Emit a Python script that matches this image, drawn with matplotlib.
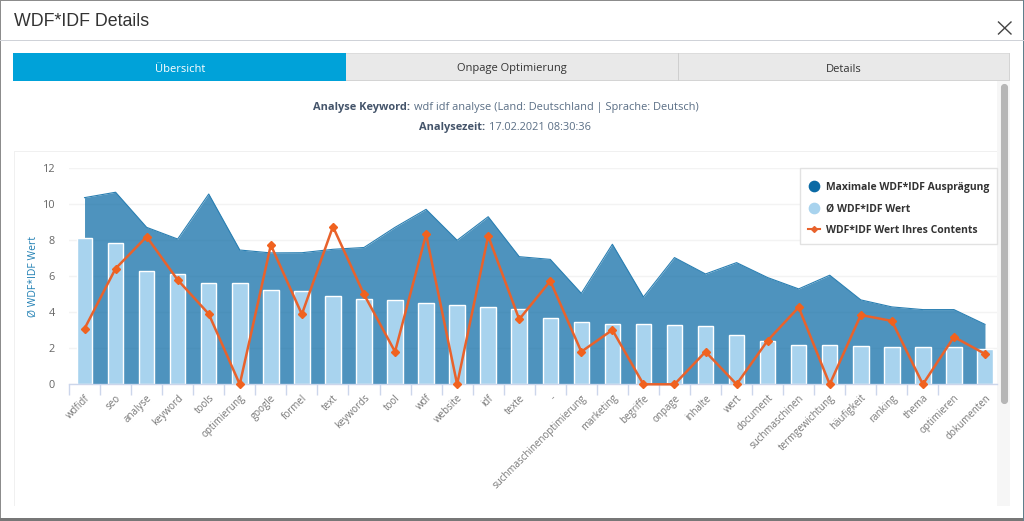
import matplotlib
matplotlib.use("Agg")
import matplotlib.pyplot as plt
from matplotlib.lines import Line2D
from matplotlib.patches import Rectangle, FancyBboxPatch
import numpy as np

keywords = ["wdfidf", "seo", "analyse", "keyword", "tools", "optimierung", "google",
            "formel", "text", "keywords", "tool", "wdf", "website", "idf", "texte", "-",
            "suchmaschinenoptimierung", "marketing", "begriffe", "onpage", "inhalte",
            "wert", "document", "suchmaschinen", "termgewichtung", "häufigkeit",
            "ranking", "thema", "optimieren", "dokumenten"]
max_values = [10.37, 10.67, 8.72, 8.07, 10.57, 7.46, 7.3, 7.31, 7.5, 7.6,
              8.72, 9.72, 8.0, 9.31, 7.09, 6.94, 5.05, 7.78, 4.85, 7.04,
              6.13, 6.76, 5.93, 5.3, 6.06, 4.69, 4.3, 4.15, 4.15, 3.33]
avg_values = [8.15, 7.87, 6.31, 6.11, 5.61, 5.61, 5.22, 5.17, 4.89, 4.74,
              4.69, 4.5, 4.43, 4.31, 4.17, 3.7, 3.46, 3.33, 3.33, 3.28,
              3.22, 2.76, 2.39, 2.19, 2.19, 2.15, 2.09, 2.06, 2.06, 1.96]
content_values = [3.09, 6.43, 8.2, 5.8, 3.91, 0, 7.74, 3.89, 8.76, 5.0,
                  1.81, 8.33, 0, 8.24, 3.61, 5.74, 1.81, 3.02, 0, 0,
                  1.81, 0, 2.43, 4.28, 0, 3.85, 3.52, 0, 2.63, 1.69]
y_ticks = [0, 2, 4, 6, 8, 10, 12]

W, H = 1024, 521
UI = "Open Sans"
plt.rcParams["font.family"] = [UI, "DejaVu Sans"]

fig = plt.figure(figsize=(W / 100, H / 100), dpi=100, facecolor="white")

# modal window around the chart, in pixels
ui = fig.add_axes([0, 0, 1, 1])
ui.set_xlim(0, W)
ui.set_ylim(H, 0)
ui.axis("off")


def box(x0, y0, x1, y1, color, **kw):
    ui.add_patch(Rectangle((x0, y0), x1 - x0, y1 - y0, facecolor=color, linewidth=0, **kw))


box(0, 0, W, 1, "#8c8c8c")
box(0, 0, 1, H, "#8c8c8c")
box(0, 518, W, H, "#777777")
box(1023, 0, W, H, "#5f7f8c")
box(0, 40, W, 41, "#cfd2d8")
ui.text(14, 21.5, "WDF*IDF Details", family="Liberation Sans", fontsize=12.8, color="#333333",
        va="center", ha="left")
ui.add_line(Line2D([998.5, 1011], [22, 34], color="#444444", lw=1))
ui.add_line(Line2D([998.5, 1011], [34, 22], color="#444444", lw=1))

box(13, 53, 346, 81, "#00a2d9")
box(346, 53, 678, 81, "#e9e9e9")
box(678, 53, 1010, 81, "#e9e9e9")
box(346, 53, 1010, 54, "#dcdcdc")
box(346, 80, 1010, 81, "#d4d4d4")
box(678, 53, 679, 81, "#cfcfcf")
box(1009, 53, 1010, 81, "#d4d4d4")
ui.text(180, 69, "Übersicht", color="white", fontsize=8, ha="center", va="center")
ui.text(512, 69, "Onpage Optimierung", color="#333333", fontsize=8, ha="center", va="center")
ui.text(844, 69, "Details", color="#333333", fontsize=8, ha="center", va="center")

ui.text(410, 107.5, "Analyse Keyword:", color="#44546a", fontsize=7.95, fontweight="bold", ha="right", va="center")
ui.text(414, 107.5, "wdf idf analyse (Land: Deutschland | Sprache: Deutsch)", color="#5a6e85",
        fontsize=7.95, ha="left", va="center")
ui.text(485, 127.5, "Analysezeit:", color="#44546a", fontsize=7.95, fontweight="bold", ha="right", va="center")
ui.text(489, 127.5, "17.02.2021 08:30:36", color="#5a6e85", fontsize=7.95, ha="left", va="center")

box(14, 151, 997, 152, "#f0f0f0")
box(13.5, 151, 14.5, 506, "#f0f0f0")
box(997, 81, 1010, 506, "#f6f6f6")
ui.add_patch(FancyBboxPatch((1002, 85), 5, 318, boxstyle="round,pad=0,rounding_size=2.5",
                            facecolor="#b6b6b6", linewidth=1.5, edgecolor="#b6b6b6"))

# chart: one category is 31.05 px, one y unit is 18 px
x0_px, x1_px = 69.0, 997.0
y0_px, y1_px = 384.3, 168.3
ax = fig.add_axes([x0_px / W, 1 - y0_px / H, (x1_px - x0_px) / W, (y0_px - y1_px) / H])
ax.patch.set_alpha(0)
x = np.arange(len(keywords))
ax.set_xlim(-0.5, (x1_px - x0_px) / 31.05 - 0.5)
ax.set_ylim(0, 12)

ax.fill_between(x, 0, max_values, color="#0a6aa5", alpha=0.72, linewidth=0, zorder=2)
ax.plot(x, max_values, color="#2a7fb2", lw=0.8, zorder=2.1)
ax.bar(x, avg_values, width=0.5, color="#a8d3ee", edgecolor="white", linewidth=1, zorder=3, clip_on=False)
ax.plot(x, content_values, color="#e8622c", lw=1.8, marker="D", ms=3.8, mfc="#f0621f", mec="#f0621f",
        zorder=4, clip_on=False)

for side in ["top", "right", "left"]:
    ax.spines[side].set_visible(False)
ax.spines["bottom"].set_color("#ccd6eb")
ax.spines["bottom"].set_linewidth(1)
ax.spines["bottom"].set_zorder(3.5)

ax.set_yticks(y_ticks)
ax.tick_params(axis="y", length=0, pad=10, labelsize=7.8, labelcolor="#666666")
ax.grid(axis="y", color="#f3f3f3", lw=1, zorder=0)
ax.set_axisbelow(True)

ax.set_xticks(x)
ax.set_xticklabels(keywords, rotation=45, ha="right", rotation_mode="anchor", fontsize=7, color="#777777")
ax.tick_params(axis="x", which="major", length=0, pad=6)
ax.set_xticks(x[:-1] - 0.5, minor=True)
ax.tick_params(axis="x", which="minor", length=8, width=1, color="#ccd6eb")
ax.xaxis.set_minor_formatter(plt.NullFormatter())

ax.set_ylabel("Ø WDF*IDF Wert", color="#1f7fb3", fontsize=7.5)
ax.yaxis.set_label_coords((39 - x0_px) / (x1_px - x0_px), 0.5)

# legend frame drawn on its own so the row padding can differ from the side padding
ax.add_patch(Rectangle((800, 168), 197, 76, transform=ui.transData, facecolor="white",
                       edgecolor="#e2e2e2", linewidth=1, zorder=5, clip_on=False))
handles = [
    Line2D([], [], ls="", marker="o", ms=7.4, color="#0a6aa5"),
    Line2D([], [], ls="", marker="o", ms=7.4, color="#a8d3ee"),
    Line2D([], [], color="#e8622c", lw=1.5, marker="D", ms=3),
]
labels = ["Maximale WDF*IDF Ausprägung", "Ø WDF*IDF Wert", "WDF*IDF Wert Ihres Contents"]
leg = ax.legend(handles, labels, loc="upper left", bbox_to_anchor=(808, 182),
                bbox_transform=ui.transData, frameon=False, borderaxespad=0, borderpad=0,
                prop={"family": UI, "weight": "bold", "size": 7.45},
                labelcolor="#333333", handlelength=1.14, handletextpad=0.57,
                labelspacing=1.0)
leg.set_zorder(6)

fig.savefig("out.png", dpi=100)
